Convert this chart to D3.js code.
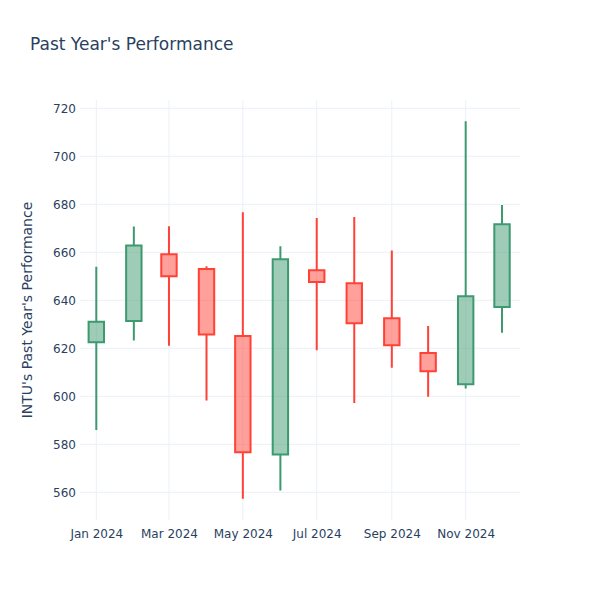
<!DOCTYPE html>
<html>
<head>
<meta charset="utf-8">
<script src="https://cdn.jsdelivr.net/npm/d3@7"></script>
<style>
  body { margin: 0; background: #fff; }
  text { font-family: "DejaVu Sans", verdana, arial, sans-serif; }
</style>
</head>
<body>
<div id="chart"></div>
<script>
const dates  = ["2024-01-01","2024-02-01","2024-03-01","2024-04-01","2024-05-01","2024-06-01",
                "2024-07-01","2024-08-01","2024-09-01","2024-10-01","2024-11-01","2024-12-01"];
const opens  = [622.5, 631.4, 659.2, 653.0, 625.1, 575.8, 652.5, 647.1, 632.5, 618.0, 605.0, 637.2];
const highs  = [654.0, 670.7, 670.9, 654.2, 676.7, 662.5, 674.3, 674.7, 660.8, 629.3, 714.6, 679.7];
const lows   = [586.0, 623.2, 621.1, 598.3, 557.3, 560.7, 619.2, 597.2, 611.9, 599.8, 603.3, 626.5];
const closes = [631.1, 662.8, 650.0, 625.8, 576.7, 657.1, 647.6, 630.4, 621.3, 610.4, 641.7, 671.7];
const xTickDates  = ["2024-01-01","2024-03-01","2024-05-01","2024-07-01","2024-09-01","2024-11-01"];
const xTickLabels = ["Jan 2024","Mar 2024","May 2024","Jul 2024","Sep 2024","Nov 2024"];
const yTicks = [560, 580, 600, 620, 640, 660, 680, 700, 720];
const titleText = "Past Year's Performance";
const yTitleText = "INTU's Past Year's Performance";

const W = 600, H = 600;
const m = {l: 80, r: 80, t: 100, b: 80};
const parse = d3.utcParse("%Y-%m-%d");
const day = 86400000;
const FONT = '"DejaVu Sans", verdana, arial, sans-serif';

const data = dates.map((d, i) => ({
  date: parse(d), o: opens[i], h: highs[i], l: lows[i], c: closes[i]
}));

const x = d3.scaleUtc()
  .domain([new Date(parse("2024-01-01").getTime() - 13.46 * day),
           new Date(parse("2024-12-01").getTime() + 14.85 * day)])
  .range([m.l, W - m.r]);
const y = d3.scaleLinear().domain([548.46, 723.46]).range([H - m.b, m.t]);

const svg = d3.select("#chart").append("svg").attr("width", W).attr("height", H);
svg.append("rect").attr("width", W).attr("height", H).attr("fill", "#fff");

const grid = "#EBF0F8";
svg.append("g").selectAll("line").data(yTicks).join("line")
  .attr("x1", m.l).attr("x2", W - m.r)
  .attr("y1", d => y(d)).attr("y2", d => y(d))
  .attr("stroke", grid).attr("stroke-width", 1);
svg.append("g").selectAll("line").data(xTickDates).join("line")
  .attr("x1", d => x(parse(d))).attr("x2", d => x(parse(d)))
  .attr("y1", m.t).attr("y2", H - m.b)
  .attr("stroke", grid).attr("stroke-width", 1);

const yAxis = d3.axisLeft(y).tickValues(yTicks).tickSize(0).tickPadding(4);
const gy = svg.append("g").attr("transform", `translate(${m.l},0)`).call(yAxis);
gy.select(".domain").remove();
gy.selectAll("text").attr("fill", "#2a3f5f").style("font-size", "12px").style("font-family", FONT);

const xAxis = d3.axisBottom(x).tickValues(xTickDates.map(parse))
  .tickFormat((d, i) => xTickLabels[i]).tickSize(0).tickPadding(9);
const gx = svg.append("g").attr("transform", `translate(0,${H - m.b})`).call(xAxis);
gx.select(".domain").remove();
gx.selectAll("text").attr("fill", "#2a3f5f").style("font-size", "12px").style("font-family", FONT);

const incColor = "#3D9970", decColor = "#FF4136";
const halfW = 7.7;
const g = svg.append("g");
data.forEach(d => {
  const up = d.c >= d.o;
  const col = up ? incColor : decColor;
  const cx = x(d.date);
  const top = y(Math.max(d.o, d.c)), bot = y(Math.min(d.o, d.c));
  const path = `M${cx - halfW},${bot}H${cx + halfW}V${top}H${cx - halfW}Z` +
               `M${cx},${top}V${y(d.h)}M${cx},${bot}V${y(d.l)}`;
  g.append("path").attr("d", path)
    .attr("fill", up ? "rgba(61,153,112,0.5)" : "rgba(255,65,54,0.5)")
    .attr("stroke", col).attr("stroke-width", 2);
});

svg.append("text").attr("x", 30).attr("y", 44).attr("dy", "0.35em")
  .attr("fill", "#2a3f5f").style("font-size", "17px").style("font-family", FONT).text(titleText);
svg.append("text")
  .attr("transform", `translate(32,${(m.t + H - m.b) / 2}) rotate(-90)`)
  .attr("text-anchor", "middle")
  .attr("fill", "#2a3f5f").style("font-size", "14px").style("font-family", FONT).text(yTitleText);
</script>
</body>
</html>
